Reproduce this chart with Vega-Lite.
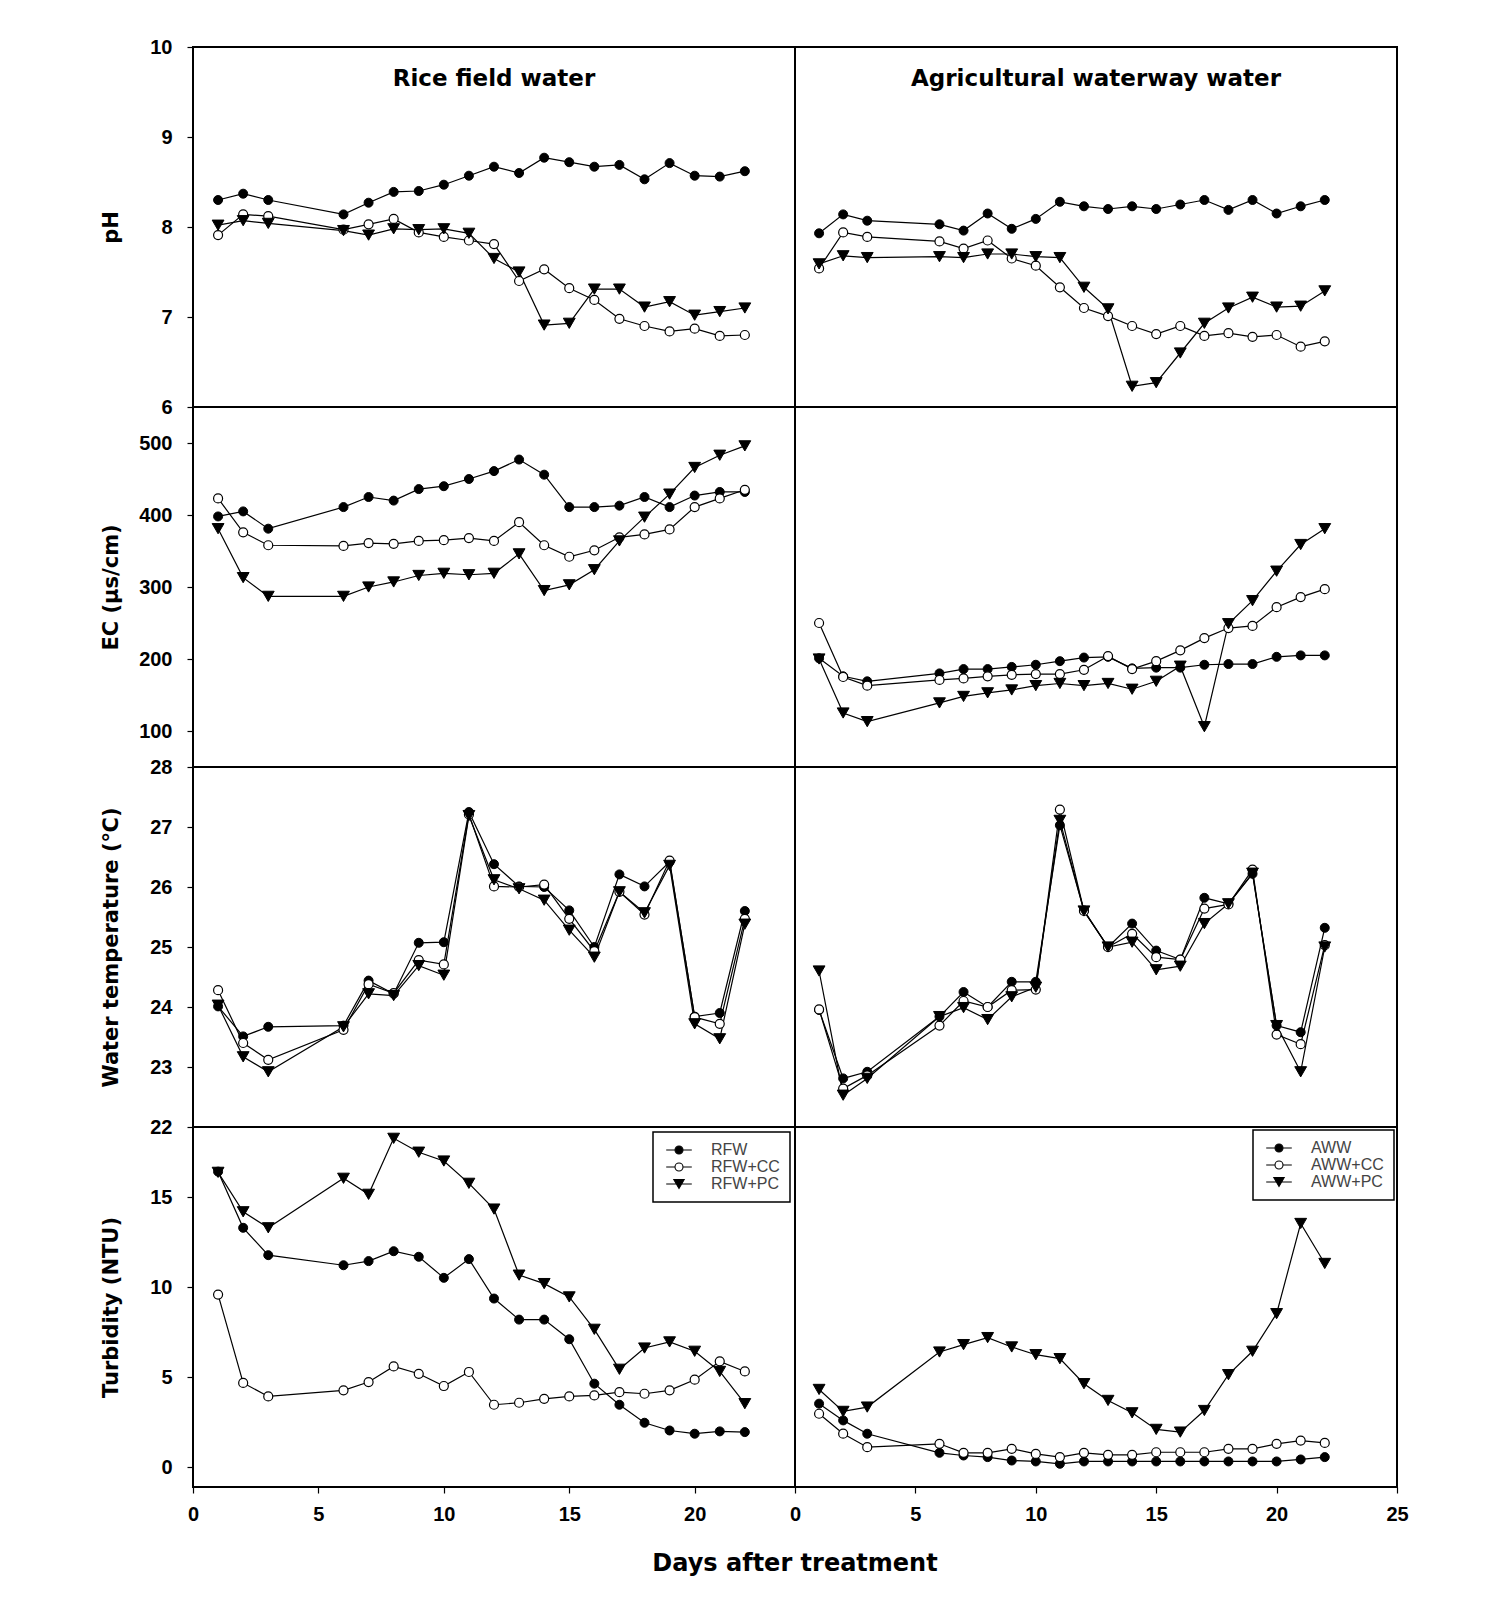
{
"$schema":"https://vega.github.io/schema/vega-lite/v6.json",
"background":"white",
"padding":{"left":99,"top":36,"right":10,"bottom":10},
"title":{"text":"Days after treatment","orient":"bottom","anchor":"middle","frame":"group","dx":602,"offset":27,"font":"DejaVu Sans","fontSize":24,"fontWeight":"bold","color":"black"},
"columns":2,
"spacing":0,
"bounds":"flush",
"resolve":{"scale":{"shape":"independent","fill":"independent","stroke":"independent"},"legend":{"shape":"independent","fill":"independent","stroke":"independent"}},
"datasets":{
"phR":[
{"t":"RFW","d":1,"v":8.30},{"t":"RFW","d":2,"v":8.37},{"t":"RFW","d":3,"v":8.30},{"t":"RFW","d":6,"v":8.14},{"t":"RFW","d":7,"v":8.27},{"t":"RFW","d":8,"v":8.39},{"t":"RFW","d":9,"v":8.40},{"t":"RFW","d":10,"v":8.47},{"t":"RFW","d":11,"v":8.57},{"t":"RFW","d":12,"v":8.67},{"t":"RFW","d":13,"v":8.60},{"t":"RFW","d":14,"v":8.77},{"t":"RFW","d":15,"v":8.72},{"t":"RFW","d":16,"v":8.67},{"t":"RFW","d":17,"v":8.69},{"t":"RFW","d":18,"v":8.53},{"t":"RFW","d":19,"v":8.71},{"t":"RFW","d":20,"v":8.57},{"t":"RFW","d":21,"v":8.56},{"t":"RFW","d":22,"v":8.62},
{"t":"RFW+CC","d":1,"v":7.91},{"t":"RFW+CC","d":2,"v":8.14},{"t":"RFW+CC","d":3,"v":8.12},{"t":"RFW+CC","d":6,"v":7.97},{"t":"RFW+CC","d":7,"v":8.03},{"t":"RFW+CC","d":8,"v":8.09},{"t":"RFW+CC","d":9,"v":7.94},{"t":"RFW+CC","d":10,"v":7.89},{"t":"RFW+CC","d":11,"v":7.85},{"t":"RFW+CC","d":12,"v":7.81},{"t":"RFW+CC","d":13,"v":7.40},{"t":"RFW+CC","d":14,"v":7.53},{"t":"RFW+CC","d":15,"v":7.32},{"t":"RFW+CC","d":16,"v":7.19},{"t":"RFW+CC","d":17,"v":6.98},{"t":"RFW+CC","d":18,"v":6.90},{"t":"RFW+CC","d":19,"v":6.84},{"t":"RFW+CC","d":20,"v":6.87},{"t":"RFW+CC","d":21,"v":6.79},{"t":"RFW+CC","d":22,"v":6.80},
{"t":"RFW+PC","d":1,"v":8.02},{"t":"RFW+PC","d":2,"v":8.07},{"t":"RFW+PC","d":3,"v":8.04},{"t":"RFW+PC","d":6,"v":7.96},{"t":"RFW+PC","d":7,"v":7.91},{"t":"RFW+PC","d":8,"v":7.98},{"t":"RFW+PC","d":9,"v":7.97},{"t":"RFW+PC","d":10,"v":7.98},{"t":"RFW+PC","d":11,"v":7.93},{"t":"RFW+PC","d":12,"v":7.65},{"t":"RFW+PC","d":13,"v":7.50},{"t":"RFW+PC","d":14,"v":6.91},{"t":"RFW+PC","d":15,"v":6.93},{"t":"RFW+PC","d":16,"v":7.31},{"t":"RFW+PC","d":17,"v":7.31},{"t":"RFW+PC","d":18,"v":7.11},{"t":"RFW+PC","d":19,"v":7.17},{"t":"RFW+PC","d":20,"v":7.02},{"t":"RFW+PC","d":21,"v":7.06},{"t":"RFW+PC","d":22,"v":7.10}],
"phA":[
{"t":"AWW","d":1,"v":7.93},{"t":"AWW","d":2,"v":8.14},{"t":"AWW","d":3,"v":8.07},{"t":"AWW","d":6,"v":8.03},{"t":"AWW","d":7,"v":7.96},{"t":"AWW","d":8,"v":8.15},{"t":"AWW","d":9,"v":7.98},{"t":"AWW","d":10,"v":8.09},{"t":"AWW","d":11,"v":8.28},{"t":"AWW","d":12,"v":8.23},{"t":"AWW","d":13,"v":8.20},{"t":"AWW","d":14,"v":8.23},{"t":"AWW","d":15,"v":8.20},{"t":"AWW","d":16,"v":8.25},{"t":"AWW","d":17,"v":8.30},{"t":"AWW","d":18,"v":8.19},{"t":"AWW","d":19,"v":8.30},{"t":"AWW","d":20,"v":8.15},{"t":"AWW","d":21,"v":8.23},{"t":"AWW","d":22,"v":8.30},
{"t":"AWW+CC","d":1,"v":7.54},{"t":"AWW+CC","d":2,"v":7.94},{"t":"AWW+CC","d":3,"v":7.89},{"t":"AWW+CC","d":6,"v":7.84},{"t":"AWW+CC","d":7,"v":7.76},{"t":"AWW+CC","d":8,"v":7.85},{"t":"AWW+CC","d":9,"v":7.65},{"t":"AWW+CC","d":10,"v":7.57},{"t":"AWW+CC","d":11,"v":7.33},{"t":"AWW+CC","d":12,"v":7.10},{"t":"AWW+CC","d":13,"v":7.01},{"t":"AWW+CC","d":14,"v":6.90},{"t":"AWW+CC","d":15,"v":6.81},{"t":"AWW+CC","d":16,"v":6.90},{"t":"AWW+CC","d":17,"v":6.79},{"t":"AWW+CC","d":18,"v":6.82},{"t":"AWW+CC","d":19,"v":6.78},{"t":"AWW+CC","d":20,"v":6.80},{"t":"AWW+CC","d":21,"v":6.67},{"t":"AWW+CC","d":22,"v":6.73},
{"t":"AWW+PC","d":1,"v":7.59},{"t":"AWW+PC","d":2,"v":7.68},{"t":"AWW+PC","d":3,"v":7.66},{"t":"AWW+PC","d":6,"v":7.67},{"t":"AWW+PC","d":7,"v":7.66},{"t":"AWW+PC","d":8,"v":7.70},{"t":"AWW+PC","d":9,"v":7.70},{"t":"AWW+PC","d":10,"v":7.67},{"t":"AWW+PC","d":11,"v":7.66},{"t":"AWW+PC","d":12,"v":7.33},{"t":"AWW+PC","d":13,"v":7.09},{"t":"AWW+PC","d":14,"v":6.23},{"t":"AWW+PC","d":15,"v":6.27},{"t":"AWW+PC","d":16,"v":6.60},{"t":"AWW+PC","d":17,"v":6.93},{"t":"AWW+PC","d":18,"v":7.10},{"t":"AWW+PC","d":19,"v":7.22},{"t":"AWW+PC","d":20,"v":7.11},{"t":"AWW+PC","d":21,"v":7.12},{"t":"AWW+PC","d":22,"v":7.29}],
"ecR":[
{"t":"RFW","d":1,"v":398},{"t":"RFW","d":2,"v":405},{"t":"RFW","d":3,"v":381},{"t":"RFW","d":6,"v":411},{"t":"RFW","d":7,"v":425},{"t":"RFW","d":8,"v":420},{"t":"RFW","d":9,"v":436},{"t":"RFW","d":10,"v":440},{"t":"RFW","d":11,"v":450},{"t":"RFW","d":12,"v":461},{"t":"RFW","d":13,"v":477},{"t":"RFW","d":14,"v":456},{"t":"RFW","d":15,"v":411},{"t":"RFW","d":16,"v":411},{"t":"RFW","d":17,"v":413},{"t":"RFW","d":18,"v":425},{"t":"RFW","d":19,"v":411},{"t":"RFW","d":20,"v":427},{"t":"RFW","d":21,"v":432},{"t":"RFW","d":22,"v":432},
{"t":"RFW+CC","d":1,"v":423},{"t":"RFW+CC","d":2,"v":376},{"t":"RFW+CC","d":3,"v":358},{"t":"RFW+CC","d":6,"v":357},{"t":"RFW+CC","d":7,"v":361},{"t":"RFW+CC","d":8,"v":360},{"t":"RFW+CC","d":9,"v":364},{"t":"RFW+CC","d":10,"v":365},{"t":"RFW+CC","d":11,"v":368},{"t":"RFW+CC","d":12,"v":364},{"t":"RFW+CC","d":13,"v":390},{"t":"RFW+CC","d":14,"v":358},{"t":"RFW+CC","d":15,"v":342},{"t":"RFW+CC","d":16,"v":351},{"t":"RFW+CC","d":17,"v":369},{"t":"RFW+CC","d":18,"v":373},{"t":"RFW+CC","d":19,"v":380},{"t":"RFW+CC","d":20,"v":411},{"t":"RFW+CC","d":21,"v":423},{"t":"RFW+CC","d":22,"v":435},
{"t":"RFW+PC","d":1,"v":381},{"t":"RFW+PC","d":2,"v":313},{"t":"RFW+PC","d":3,"v":287},{"t":"RFW+PC","d":6,"v":287},{"t":"RFW+PC","d":7,"v":300},{"t":"RFW+PC","d":8,"v":307},{"t":"RFW+PC","d":9,"v":316},{"t":"RFW+PC","d":10,"v":319},{"t":"RFW+PC","d":11,"v":317},{"t":"RFW+PC","d":12,"v":319},{"t":"RFW+PC","d":13,"v":346},{"t":"RFW+PC","d":14,"v":295},{"t":"RFW+PC","d":15,"v":303},{"t":"RFW+PC","d":16,"v":324},{"t":"RFW+PC","d":17,"v":364},{"t":"RFW+PC","d":18,"v":397},{"t":"RFW+PC","d":19,"v":429},{"t":"RFW+PC","d":20,"v":466},{"t":"RFW+PC","d":21,"v":483},{"t":"RFW+PC","d":22,"v":496}],
"ecA":[
{"t":"AWW","d":1,"v":201},{"t":"AWW","d":2,"v":176},{"t":"AWW","d":3,"v":169},{"t":"AWW","d":6,"v":180},{"t":"AWW","d":7,"v":186},{"t":"AWW","d":8,"v":186},{"t":"AWW","d":9,"v":189},{"t":"AWW","d":10,"v":192},{"t":"AWW","d":11,"v":197},{"t":"AWW","d":12,"v":202},{"t":"AWW","d":13,"v":203},{"t":"AWW","d":14,"v":187},{"t":"AWW","d":15,"v":188},{"t":"AWW","d":16,"v":188},{"t":"AWW","d":17,"v":192},{"t":"AWW","d":18,"v":193},{"t":"AWW","d":19,"v":193},{"t":"AWW","d":20,"v":203},{"t":"AWW","d":21,"v":205},{"t":"AWW","d":22,"v":205},
{"t":"AWW+CC","d":1,"v":250},{"t":"AWW+CC","d":2,"v":175},{"t":"AWW+CC","d":3,"v":163},{"t":"AWW+CC","d":6,"v":171},{"t":"AWW+CC","d":7,"v":173},{"t":"AWW+CC","d":8,"v":176},{"t":"AWW+CC","d":9,"v":178},{"t":"AWW+CC","d":10,"v":179},{"t":"AWW+CC","d":11,"v":179},{"t":"AWW+CC","d":12,"v":185},{"t":"AWW+CC","d":13,"v":204},{"t":"AWW+CC","d":14,"v":186},{"t":"AWW+CC","d":15,"v":197},{"t":"AWW+CC","d":16,"v":212},{"t":"AWW+CC","d":17,"v":229},{"t":"AWW+CC","d":18,"v":243},{"t":"AWW+CC","d":19,"v":246},{"t":"AWW+CC","d":20,"v":272},{"t":"AWW+CC","d":21,"v":286},{"t":"AWW+CC","d":22,"v":297},
{"t":"AWW+PC","d":1,"v":200},{"t":"AWW+PC","d":2,"v":125},{"t":"AWW+PC","d":3,"v":113},{"t":"AWW+PC","d":6,"v":139},{"t":"AWW+PC","d":7,"v":148},{"t":"AWW+PC","d":8,"v":153},{"t":"AWW+PC","d":9,"v":157},{"t":"AWW+PC","d":10,"v":163},{"t":"AWW+PC","d":11,"v":166},{"t":"AWW+PC","d":12,"v":163},{"t":"AWW+PC","d":13,"v":166},{"t":"AWW+PC","d":14,"v":158},{"t":"AWW+PC","d":15,"v":169},{"t":"AWW+PC","d":16,"v":190},{"t":"AWW+PC","d":17,"v":106},{"t":"AWW+PC","d":18,"v":249},{"t":"AWW+PC","d":19,"v":281},{"t":"AWW+PC","d":20,"v":322},{"t":"AWW+PC","d":21,"v":359},{"t":"AWW+PC","d":22,"v":381}],
"tR":[
{"t":"RFW","d":1,"v":24.01},{"t":"RFW","d":2,"v":23.51},{"t":"RFW","d":3,"v":23.67},{"t":"RFW","d":6,"v":23.69},{"t":"RFW","d":7,"v":24.44},{"t":"RFW","d":8,"v":24.22},{"t":"RFW","d":9,"v":25.07},{"t":"RFW","d":10,"v":25.08},{"t":"RFW","d":11,"v":27.25},{"t":"RFW","d":12,"v":26.38},{"t":"RFW","d":13,"v":26.01},{"t":"RFW","d":14,"v":26.0},{"t":"RFW","d":15,"v":25.61},{"t":"RFW","d":16,"v":25.0},{"t":"RFW","d":17,"v":26.21},{"t":"RFW","d":18,"v":26.01},{"t":"RFW","d":19,"v":26.42},{"t":"RFW","d":20,"v":23.84},{"t":"RFW","d":21,"v":23.9},{"t":"RFW","d":22,"v":25.6},
{"t":"RFW+CC","d":1,"v":24.28},{"t":"RFW+CC","d":2,"v":23.40},{"t":"RFW+CC","d":3,"v":23.12},{"t":"RFW+CC","d":6,"v":23.62},{"t":"RFW+CC","d":7,"v":24.38},{"t":"RFW+CC","d":8,"v":24.23},{"t":"RFW+CC","d":9,"v":24.78},{"t":"RFW+CC","d":10,"v":24.71},{"t":"RFW+CC","d":11,"v":27.21},{"t":"RFW+CC","d":12,"v":26.01},{"t":"RFW+CC","d":13,"v":26.0},{"t":"RFW+CC","d":14,"v":26.04},{"t":"RFW+CC","d":15,"v":25.47},{"t":"RFW+CC","d":16,"v":24.93},{"t":"RFW+CC","d":17,"v":25.92},{"t":"RFW+CC","d":18,"v":25.54},{"t":"RFW+CC","d":19,"v":26.44},{"t":"RFW+CC","d":20,"v":23.83},{"t":"RFW+CC","d":21,"v":23.72},{"t":"RFW+CC","d":22,"v":25.47},
{"t":"RFW+PC","d":1,"v":24.03},{"t":"RFW+PC","d":2,"v":23.17},{"t":"RFW+PC","d":3,"v":22.92},{"t":"RFW+PC","d":6,"v":23.67},{"t":"RFW+PC","d":7,"v":24.22},{"t":"RFW+PC","d":8,"v":24.19},{"t":"RFW+PC","d":9,"v":24.69},{"t":"RFW+PC","d":10,"v":24.53},{"t":"RFW+PC","d":11,"v":27.19},{"t":"RFW+PC","d":12,"v":26.12},{"t":"RFW+PC","d":13,"v":25.97},{"t":"RFW+PC","d":14,"v":25.78},{"t":"RFW+PC","d":15,"v":25.28},{"t":"RFW+PC","d":16,"v":24.83},{"t":"RFW+PC","d":17,"v":25.92},{"t":"RFW+PC","d":18,"v":25.57},{"t":"RFW+PC","d":19,"v":26.36},{"t":"RFW+PC","d":20,"v":23.72},{"t":"RFW+PC","d":21,"v":23.47},{"t":"RFW+PC","d":22,"v":25.38}],
"tA":[
{"t":"AWW","d":1,"v":23.95},{"t":"AWW","d":2,"v":22.81},{"t":"AWW","d":3,"v":22.92},{"t":"AWW","d":6,"v":23.84},{"t":"AWW","d":7,"v":24.25},{"t":"AWW","d":8,"v":24.0},{"t":"AWW","d":9,"v":24.42},{"t":"AWW","d":10,"v":24.42},{"t":"AWW","d":11,"v":27.03},{"t":"AWW","d":12,"v":25.61},{"t":"AWW","d":13,"v":25.0},{"t":"AWW","d":14,"v":25.39},{"t":"AWW","d":15,"v":24.94},{"t":"AWW","d":16,"v":24.79},{"t":"AWW","d":17,"v":25.82},{"t":"AWW","d":18,"v":25.72},{"t":"AWW","d":19,"v":26.22},{"t":"AWW","d":20,"v":23.69},{"t":"AWW","d":21,"v":23.58},{"t":"AWW","d":22,"v":25.32},
{"t":"AWW+CC","d":1,"v":23.96},{"t":"AWW+CC","d":2,"v":22.64},{"t":"AWW+CC","d":3,"v":22.86},{"t":"AWW+CC","d":6,"v":23.69},{"t":"AWW+CC","d":7,"v":24.1},{"t":"AWW+CC","d":8,"v":24.0},{"t":"AWW+CC","d":9,"v":24.28},{"t":"AWW+CC","d":10,"v":24.29},{"t":"AWW+CC","d":11,"v":27.29},{"t":"AWW+CC","d":12,"v":25.6},{"t":"AWW+CC","d":13,"v":25.0},{"t":"AWW+CC","d":14,"v":25.22},{"t":"AWW+CC","d":15,"v":24.83},{"t":"AWW+CC","d":16,"v":24.79},{"t":"AWW+CC","d":17,"v":25.64},{"t":"AWW+CC","d":18,"v":25.71},{"t":"AWW+CC","d":19,"v":26.29},{"t":"AWW+CC","d":20,"v":23.54},{"t":"AWW+CC","d":21,"v":23.38},{"t":"AWW+CC","d":22,"v":25.03},
{"t":"AWW+PC","d":1,"v":24.6},{"t":"AWW+PC","d":2,"v":22.53},{"t":"AWW+PC","d":3,"v":22.81},{"t":"AWW+PC","d":6,"v":23.84},{"t":"AWW+PC","d":7,"v":23.99},{"t":"AWW+PC","d":8,"v":23.79},{"t":"AWW+PC","d":9,"v":24.17},{"t":"AWW+PC","d":10,"v":24.33},{"t":"AWW+PC","d":11,"v":27.11},{"t":"AWW+PC","d":12,"v":25.6},{"t":"AWW+PC","d":13,"v":25.0},{"t":"AWW+PC","d":14,"v":25.08},{"t":"AWW+PC","d":15,"v":24.62},{"t":"AWW+PC","d":16,"v":24.68},{"t":"AWW+PC","d":17,"v":25.39},{"t":"AWW+PC","d":18,"v":25.72},{"t":"AWW+PC","d":19,"v":26.23},{"t":"AWW+PC","d":20,"v":23.69},{"t":"AWW+PC","d":21,"v":22.92},{"t":"AWW+PC","d":22,"v":25.0}],
"uR":[
{"t":"RFW","d":1,"v":16.42},{"t":"RFW","d":2,"v":13.3},{"t":"RFW","d":3,"v":11.78},{"t":"RFW","d":6,"v":11.22},{"t":"RFW","d":7,"v":11.45},{"t":"RFW","d":8,"v":12.0},{"t":"RFW","d":9,"v":11.69},{"t":"RFW","d":10,"v":10.52},{"t":"RFW","d":11,"v":11.56},{"t":"RFW","d":12,"v":9.37},{"t":"RFW","d":13,"v":8.2},{"t":"RFW","d":14,"v":8.2},{"t":"RFW","d":15,"v":7.11},{"t":"RFW","d":16,"v":4.64},{"t":"RFW","d":17,"v":3.47},{"t":"RFW","d":18,"v":2.47},{"t":"RFW","d":19,"v":2.04},{"t":"RFW","d":20,"v":1.86},{"t":"RFW","d":21,"v":1.99},{"t":"RFW","d":22,"v":1.95},
{"t":"RFW+CC","d":1,"v":9.59},{"t":"RFW+CC","d":2,"v":4.68},{"t":"RFW+CC","d":3,"v":3.93},{"t":"RFW+CC","d":6,"v":4.27},{"t":"RFW+CC","d":7,"v":4.73},{"t":"RFW+CC","d":8,"v":5.6},{"t":"RFW+CC","d":9,"v":5.19},{"t":"RFW+CC","d":10,"v":4.51},{"t":"RFW+CC","d":11,"v":5.29},{"t":"RFW+CC","d":12,"v":3.47},{"t":"RFW+CC","d":13,"v":3.58},{"t":"RFW+CC","d":14,"v":3.8},{"t":"RFW+CC","d":15,"v":3.93},{"t":"RFW+CC","d":16,"v":3.99},{"t":"RFW+CC","d":17,"v":4.17},{"t":"RFW+CC","d":18,"v":4.08},{"t":"RFW+CC","d":19,"v":4.27},{"t":"RFW+CC","d":20,"v":4.86},{"t":"RFW+CC","d":21,"v":5.88},{"t":"RFW+CC","d":22,"v":5.32},
{"t":"RFW+PC","d":1,"v":16.38},{"t":"RFW+PC","d":2,"v":14.19},{"t":"RFW+PC","d":3,"v":13.3},{"t":"RFW+PC","d":6,"v":16.05},{"t":"RFW+PC","d":7,"v":15.16},{"t":"RFW+PC","d":8,"v":18.27},{"t":"RFW+PC","d":9,"v":17.5},{"t":"RFW+PC","d":10,"v":17.01},{"t":"RFW+PC","d":11,"v":15.77},{"t":"RFW+PC","d":12,"v":14.34},{"t":"RFW+PC","d":13,"v":10.67},{"t":"RFW+PC","d":14,"v":10.2},{"t":"RFW+PC","d":15,"v":9.46},{"t":"RFW+PC","d":16,"v":7.66},{"t":"RFW+PC","d":17,"v":5.44},{"t":"RFW+PC","d":18,"v":6.62},{"t":"RFW+PC","d":19,"v":6.96},{"t":"RFW+PC","d":20,"v":6.44},{"t":"RFW+PC","d":21,"v":5.32},{"t":"RFW+PC","d":22,"v":3.53}],
"uA":[
{"t":"AWW","d":1,"v":3.53},{"t":"AWW","d":2,"v":2.6},{"t":"AWW","d":3,"v":1.86},{"t":"AWW","d":6,"v":0.8},{"t":"AWW","d":7,"v":0.65},{"t":"AWW","d":8,"v":0.56},{"t":"AWW","d":9,"v":0.37},{"t":"AWW","d":10,"v":0.32},{"t":"AWW","d":11,"v":0.19},{"t":"AWW","d":12,"v":0.32},{"t":"AWW","d":13,"v":0.32},{"t":"AWW","d":14,"v":0.32},{"t":"AWW","d":15,"v":0.32},{"t":"AWW","d":16,"v":0.32},{"t":"AWW","d":17,"v":0.32},{"t":"AWW","d":18,"v":0.32},{"t":"AWW","d":19,"v":0.32},{"t":"AWW","d":20,"v":0.32},{"t":"AWW","d":21,"v":0.43},{"t":"AWW","d":22,"v":0.56},
{"t":"AWW+CC","d":1,"v":2.97},{"t":"AWW+CC","d":2,"v":1.86},{"t":"AWW+CC","d":3,"v":1.11},{"t":"AWW+CC","d":6,"v":1.3},{"t":"AWW+CC","d":7,"v":0.8},{"t":"AWW+CC","d":8,"v":0.8},{"t":"AWW+CC","d":9,"v":1.02},{"t":"AWW+CC","d":10,"v":0.74},{"t":"AWW+CC","d":11,"v":0.56},{"t":"AWW+CC","d":12,"v":0.8},{"t":"AWW+CC","d":13,"v":0.69},{"t":"AWW+CC","d":14,"v":0.69},{"t":"AWW+CC","d":15,"v":0.83},{"t":"AWW+CC","d":16,"v":0.83},{"t":"AWW+CC","d":17,"v":0.83},{"t":"AWW+CC","d":18,"v":1.02},{"t":"AWW+CC","d":19,"v":1.02},{"t":"AWW+CC","d":20,"v":1.3},{"t":"AWW+CC","d":21,"v":1.48},{"t":"AWW+CC","d":22,"v":1.35},
{"t":"AWW+PC","d":1,"v":4.32},{"t":"AWW+PC","d":2,"v":3.1},{"t":"AWW+PC","d":3,"v":3.34},{"t":"AWW+PC","d":6,"v":6.4},{"t":"AWW+PC","d":7,"v":6.81},{"t":"AWW+PC","d":8,"v":7.2},{"t":"AWW+PC","d":9,"v":6.68},{"t":"AWW+PC","d":10,"v":6.25},{"t":"AWW+PC","d":11,"v":6.03},{"t":"AWW+PC","d":12,"v":4.64},{"t":"AWW+PC","d":13,"v":3.71},{"t":"AWW+PC","d":14,"v":3.02},{"t":"AWW+PC","d":15,"v":2.1},{"t":"AWW+PC","d":16,"v":1.95},{"t":"AWW+PC","d":17,"v":3.15},{"t":"AWW+PC","d":18,"v":5.14},{"t":"AWW+PC","d":19,"v":6.44},{"t":"AWW+PC","d":20,"v":8.53},{"t":"AWW+PC","d":21,"v":13.54},{"t":"AWW+PC","d":22,"v":11.32}]
},
"concat":[
{"data":{"name":"phR"},"width":602,"height":360,
 "title":{"text":"Rice field water","offset":-54,"anchor":"middle","font":"DejaVu Sans","fontSize":23,"fontWeight":"bold","color":"black"},
 "encoding":{"x":{"field":"d","type":"quantitative","scale":{"domain":[0,24],"nice":false,"zero":false},"axis":null},
  "y":{"field":"v","type":"quantitative","scale":{"domain":[6,10],"nice":false,"zero":false},"axis":{"title":"pH","values":[6,7,8,9,10],"minExtent":50,"maxExtent":50,"titlePadding":22}}},
 "layer":[
  {"mark":{"type":"line","color":"black","strokeWidth":1.2},"encoding":{"detail":{"field":"t"}}},
  {"transform":[{"filter":"datum.t == 'RFW'"}],"mark":{"type":"point","shape":"circle","filled":true,"fill":"black","stroke":"black","strokeWidth":1,"size":81,"opacity":1}},
  {"transform":[{"filter":"datum.t == 'RFW+CC'"}],"mark":{"type":"point","shape":"circle","filled":true,"fill":"white","stroke":"black","strokeWidth":1.2,"size":81,"opacity":1}},
  {"transform":[{"filter":"datum.t == 'RFW+PC'"}],"mark":{"type":"point","shape":"triangle-down","filled":true,"fill":"black","stroke":"black","strokeWidth":1,"size":140,"opacity":1}}]},
{"data":{"name":"phA"},"width":602,"height":360,
 "title":{"text":"Agricultural waterway water","offset":-44,"anchor":"middle","font":"DejaVu Sans","fontSize":23,"fontWeight":"bold","color":"black"},
 "encoding":{"x":{"field":"d","type":"quantitative","scale":{"domain":[0,25],"nice":false,"zero":false},"axis":null},
  "y":{"field":"v","type":"quantitative","scale":{"domain":[6,10],"nice":false,"zero":false},"axis":null}},
 "layer":[
  {"mark":{"type":"line","color":"black","strokeWidth":1.2},"encoding":{"detail":{"field":"t"}}},
  {"transform":[{"filter":"datum.t == 'AWW'"}],"mark":{"type":"point","shape":"circle","filled":true,"fill":"black","stroke":"black","strokeWidth":1,"size":81,"opacity":1}},
  {"transform":[{"filter":"datum.t == 'AWW+CC'"}],"mark":{"type":"point","shape":"circle","filled":true,"fill":"white","stroke":"black","strokeWidth":1.2,"size":81,"opacity":1}},
  {"transform":[{"filter":"datum.t == 'AWW+PC'"}],"mark":{"type":"point","shape":"triangle-down","filled":true,"fill":"black","stroke":"black","strokeWidth":1,"size":140,"opacity":1}}]},
{"data":{"name":"ecR"},"width":602,"height":360,
 "encoding":{"x":{"field":"d","type":"quantitative","scale":{"domain":[0,24],"nice":false,"zero":false},"axis":null},
  "y":{"field":"v","type":"quantitative","scale":{"domain":[50,550],"nice":false,"zero":false},"axis":{"title":"EC (µs/cm)","values":[100,200,300,400,500],"minExtent":50,"maxExtent":50,"titlePadding":22}}},
 "layer":[
  {"mark":{"type":"line","color":"black","strokeWidth":1.2},"encoding":{"detail":{"field":"t"}}},
  {"transform":[{"filter":"datum.t == 'RFW'"}],"mark":{"type":"point","shape":"circle","filled":true,"fill":"black","stroke":"black","strokeWidth":1,"size":81,"opacity":1}},
  {"transform":[{"filter":"datum.t == 'RFW+CC'"}],"mark":{"type":"point","shape":"circle","filled":true,"fill":"white","stroke":"black","strokeWidth":1.2,"size":81,"opacity":1}},
  {"transform":[{"filter":"datum.t == 'RFW+PC'"}],"mark":{"type":"point","shape":"triangle-down","filled":true,"fill":"black","stroke":"black","strokeWidth":1,"size":140,"opacity":1}}]},
{"data":{"name":"ecA"},"width":602,"height":360,
 "encoding":{"x":{"field":"d","type":"quantitative","scale":{"domain":[0,25],"nice":false,"zero":false},"axis":null},
  "y":{"field":"v","type":"quantitative","scale":{"domain":[50,550],"nice":false,"zero":false},"axis":null}},
 "layer":[
  {"mark":{"type":"line","color":"black","strokeWidth":1.2},"encoding":{"detail":{"field":"t"}}},
  {"transform":[{"filter":"datum.t == 'AWW'"}],"mark":{"type":"point","shape":"circle","filled":true,"fill":"black","stroke":"black","strokeWidth":1,"size":81,"opacity":1}},
  {"transform":[{"filter":"datum.t == 'AWW+CC'"}],"mark":{"type":"point","shape":"circle","filled":true,"fill":"white","stroke":"black","strokeWidth":1.2,"size":81,"opacity":1}},
  {"transform":[{"filter":"datum.t == 'AWW+PC'"}],"mark":{"type":"point","shape":"triangle-down","filled":true,"fill":"black","stroke":"black","strokeWidth":1,"size":140,"opacity":1}}]},
{"data":{"name":"tR"},"width":602,"height":360,
 "encoding":{"x":{"field":"d","type":"quantitative","scale":{"domain":[0,24],"nice":false,"zero":false},"axis":null},
  "y":{"field":"v","type":"quantitative","scale":{"domain":[22,28],"nice":false,"zero":false},"axis":{"title":"Water temperature (℃)","values":[22,23,24,25,26,27,28],"minExtent":50,"maxExtent":50,"titlePadding":22}}},
 "layer":[
  {"mark":{"type":"line","color":"black","strokeWidth":1.2},"encoding":{"detail":{"field":"t"}}},
  {"transform":[{"filter":"datum.t == 'RFW'"}],"mark":{"type":"point","shape":"circle","filled":true,"fill":"black","stroke":"black","strokeWidth":1,"size":81,"opacity":1}},
  {"transform":[{"filter":"datum.t == 'RFW+CC'"}],"mark":{"type":"point","shape":"circle","filled":true,"fill":"white","stroke":"black","strokeWidth":1.2,"size":81,"opacity":1}},
  {"transform":[{"filter":"datum.t == 'RFW+PC'"}],"mark":{"type":"point","shape":"triangle-down","filled":true,"fill":"black","stroke":"black","strokeWidth":1,"size":140,"opacity":1}}]},
{"data":{"name":"tA"},"width":602,"height":360,
 "encoding":{"x":{"field":"d","type":"quantitative","scale":{"domain":[0,25],"nice":false,"zero":false},"axis":null},
  "y":{"field":"v","type":"quantitative","scale":{"domain":[22,28],"nice":false,"zero":false},"axis":null}},
 "layer":[
  {"mark":{"type":"line","color":"black","strokeWidth":1.2},"encoding":{"detail":{"field":"t"}}},
  {"transform":[{"filter":"datum.t == 'AWW'"}],"mark":{"type":"point","shape":"circle","filled":true,"fill":"black","stroke":"black","strokeWidth":1,"size":81,"opacity":1}},
  {"transform":[{"filter":"datum.t == 'AWW+CC'"}],"mark":{"type":"point","shape":"circle","filled":true,"fill":"white","stroke":"black","strokeWidth":1.2,"size":81,"opacity":1}},
  {"transform":[{"filter":"datum.t == 'AWW+PC'"}],"mark":{"type":"point","shape":"triangle-down","filled":true,"fill":"black","stroke":"black","strokeWidth":1,"size":140,"opacity":1}}]},
{"data":{"name":"uR"},"width":602,"height":360,
 "encoding":{"x":{"field":"d","type":"quantitative","scale":{"domain":[0,24],"nice":false,"zero":false},"axis":{"title":null,"values":[0,5,10,15,20],"labelFlush":false,"labelPadding":11}},
  "y":{"field":"v","type":"quantitative","scale":{"domain":[-1.1,18.9],"nice":false,"zero":false},"axis":{"title":"Turbidity (NTU)","values":[0,5,10,15],"minExtent":50,"maxExtent":50,"titlePadding":22}}},
 "layer":[
  {"mark":{"type":"line","color":"black","strokeWidth":1.2},"encoding":{"detail":{"field":"t"}}},
  {"transform":[{"filter":"datum.t == 'RFW'"}],"mark":{"type":"point","shape":"circle","filled":true,"fill":"black","stroke":"black","strokeWidth":1,"size":81,"opacity":1}},
  {"transform":[{"filter":"datum.t == 'RFW+CC'"}],"mark":{"type":"point","shape":"circle","filled":true,"fill":"white","stroke":"black","strokeWidth":1.2,"size":81,"opacity":1}},
  {"transform":[{"filter":"datum.t == 'RFW+PC'"}],"mark":{"type":"point","shape":"triangle-down","filled":true,"fill":"black","stroke":"black","strokeWidth":1,"size":140,"opacity":1}},
  {"transform":[{"filter":"false"}],"mark":{"type":"point","filled":true,"strokeWidth":1.1,"size":64,"opacity":1},
   "encoding":{
    "shape":{"field":"t","type":"nominal","scale":{"domain":["RFW","RFW+CC","RFW+PC"],"range":["M-3.2,0H-1M1,0H3.2M1,0A1,1,0,1,1,-1,0A1,1,0,1,1,1,0Z","M-3.2,0H-1M1,0H3.2M1,0A1,1,0,1,1,-1,0A1,1,0,1,1,1,0Z","M-3.2,0H3.2M-1.3,-1.13L1.3,-1.13L0,1.13Z"]},"legend":{"title":null,"orient":"top-right","offset":5}},
    "fill":{"field":"t","type":"nominal","scale":{"domain":["RFW","RFW+CC","RFW+PC"],"range":["black","white","black"]},"legend":{"title":null,"orient":"top-right","offset":5}},
    "stroke":{"field":"t","type":"nominal","scale":{"domain":["RFW","RFW+CC","RFW+PC"],"range":["black","black","black"]},"legend":{"title":null,"orient":"top-right","offset":5}}}}]},
{"data":{"name":"uA"},"width":602,"height":360,
 "encoding":{"x":{"field":"d","type":"quantitative","scale":{"domain":[0,25],"nice":false,"zero":false},"axis":{"title":null,"values":[0,5,10,15,20,25],"labelFlush":false,"labelPadding":11}},
  "y":{"field":"v","type":"quantitative","scale":{"domain":[-1.1,18.9],"nice":false,"zero":false},"axis":null}},
 "layer":[
  {"mark":{"type":"line","color":"black","strokeWidth":1.2},"encoding":{"detail":{"field":"t"}}},
  {"transform":[{"filter":"datum.t == 'AWW'"}],"mark":{"type":"point","shape":"circle","filled":true,"fill":"black","stroke":"black","strokeWidth":1,"size":81,"opacity":1}},
  {"transform":[{"filter":"datum.t == 'AWW+CC'"}],"mark":{"type":"point","shape":"circle","filled":true,"fill":"white","stroke":"black","strokeWidth":1.2,"size":81,"opacity":1}},
  {"transform":[{"filter":"datum.t == 'AWW+PC'"}],"mark":{"type":"point","shape":"triangle-down","filled":true,"fill":"black","stroke":"black","strokeWidth":1,"size":140,"opacity":1}},
  {"transform":[{"filter":"false"}],"mark":{"type":"point","filled":true,"strokeWidth":1.1,"size":64,"opacity":1},
   "encoding":{
    "shape":{"field":"t","type":"nominal","scale":{"domain":["AWW","AWW+CC","AWW+PC"],"range":["M-3.2,0H-1M1,0H3.2M1,0A1,1,0,1,1,-1,0A1,1,0,1,1,1,0Z","M-3.2,0H-1M1,0H3.2M1,0A1,1,0,1,1,-1,0A1,1,0,1,1,1,0Z","M-3.2,0H3.2M-1.3,-1.13L1.3,-1.13L0,1.13Z"]},"legend":{"title":null,"orient":"top-right","offset":3}},
    "fill":{"field":"t","type":"nominal","scale":{"domain":["AWW","AWW+CC","AWW+PC"],"range":["black","white","black"]},"legend":{"title":null,"orient":"top-right","offset":3}},
    "stroke":{"field":"t","type":"nominal","scale":{"domain":["AWW","AWW+CC","AWW+PC"],"range":["black","black","black"]},"legend":{"title":null,"orient":"top-right","offset":3}}}}]}
],
"config":{
 "view":{"stroke":"black","strokeWidth":2,"fill":"white"},
 "axis":{"grid":false,"domain":false,"ticks":true,"tickColor":"black","tickSize":6,"tickWidth":1.2,"labelFont":"Liberation Sans","labelFontSize":20,"labelFontWeight":"bold","labelColor":"black","labelPadding":15,"titleFont":"DejaVu Sans","titleFontSize":21,"titleFontWeight":"bold","titleColor":"black"},
 "legend":{"padding":10,"strokeColor":"black","strokeWidth":1.5,"fillColor":"white","labelFont":"Liberation Sans","labelFontSize":16,"labelColor":"#444","symbolSize":64,"symbolOffset":8,"labelOffset":24,"rowPadding":1,"symbolStrokeColor":"black","symbolStrokeWidth":1.1}
}
}
